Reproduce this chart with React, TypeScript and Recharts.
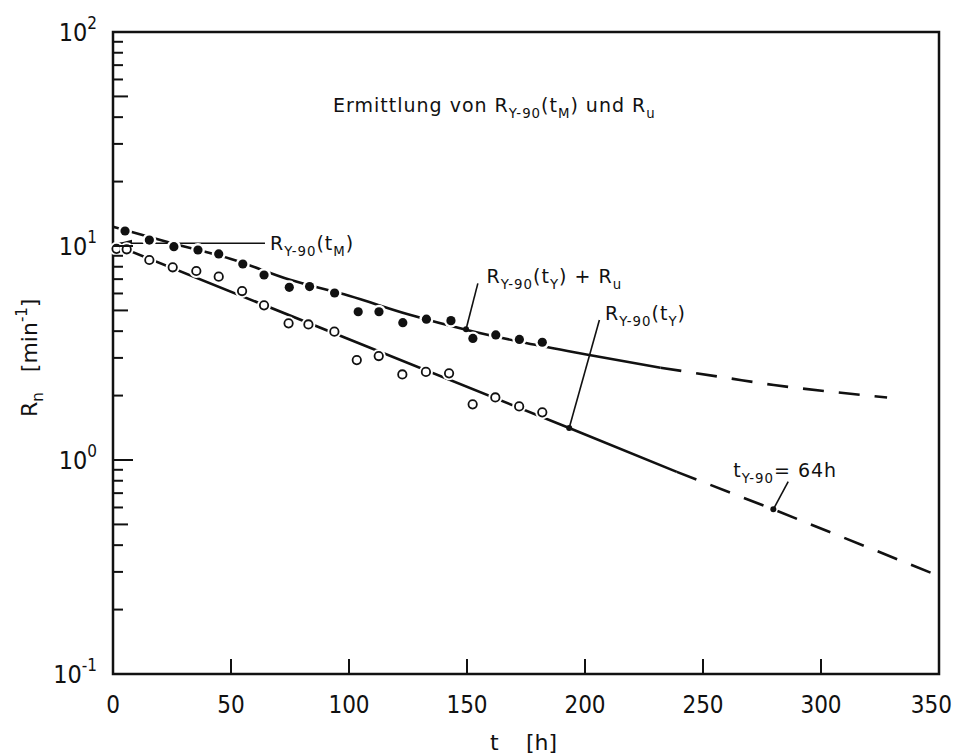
import React from "react";
import {
  ComposedChart,
  Line,
  Scatter,
  XAxis,
  YAxis,
  ReferenceArea,
  ReferenceLine,
  ReferenceDot,
} from "recharts";

// measured points: R_Y-90(t_Y) + R_u (filled) and R_Y-90(t_Y) (open)
const filledT = [5.1, 15.4, 25.8, 36, 44.8, 55, 64, 74.7, 83.3, 93.9, 103.9, 112.7, 122.8, 132.8, 143.2, 152.5, 162.2, 172.2, 181.9];
const filledR = [11.75, 10.66, 9.93, 9.58, 9.18, 8.24, 7.32, 6.41, 6.46, 6.03, 4.93, 4.93, 4.38, 4.55, 4.48, 3.7, 3.84, 3.66, 3.55];

const openT = [1.5, 5.8, 15.4, 25.3, 35.3, 44.8, 54.7, 64, 74.4, 82.8, 93.8, 103.3, 112.6, 122.6, 132.6, 142.4, 152.4, 162, 172.1, 181.9];
const openR = [9.7, 9.65, 8.6, 7.95, 7.64, 7.19, 6.16, 5.28, 4.35, 4.3, 3.98, 2.93, 3.06, 2.51, 2.58, 2.54, 1.82, 1.96, 1.78, 1.67];

// fitted curves
const upperSolidT = [0, 25, 50, 75, 100, 125, 150, 175, 200, 232];
const upperSolidR = [12.3, 10.3, 8.7, 6.95, 5.85, 4.8, 4.05, 3.52, 3.12, 2.7];
const upperDashT = [232, 260, 280, 305, 328];
const upperDashR = [2.7, 2.42, 2.24, 2.08, 1.96];

const lowerSolidT = [0, 193.3, 238.9];
const lowerSolidR = [10.2, 1.41, 0.88];
const lowerDashT = [238.9, 279.8, 350];
const lowerDashR = [0.88, 0.588, 0.287];

// small dots where the labels point
const markerT = [149.6, 193.3, 279.8];
const markerR = [4.08, 1.41, 0.588];

const xTicks = [0, 50, 100, 150, 200, 250, 300, 350];
const yTicks = [
  0.1, 0.2, 0.3, 0.4, 0.5, 0.6, 0.7, 0.8, 0.9,
  1, 2, 3, 4, 5, 6, 7, 8, 9,
  10, 20, 30, 40, 50, 60, 70, 80, 90, 100,
];

// annotations (data coordinates)
const leaderFromT = [154.6, 206.1, 286.1];
const leaderFromR = [6.69, 4.51, 0.792];
const arrowR = 10.3;
const arrowEndT = 64.4;

type Part = [string, ("sub" | "sup")?];
const labelT = [66.5, 158.3, 208.5, 262.8];
const labelR = [9.58, 6.71, 4.51, 0.833];
const labelParts: Part[][] = [
  [["R"], ["Y-90", "sub"], ["(t"], ["M", "sub"], [")"]],
  [["R"], ["Y-90", "sub"], ["(t"], ["Y", "sub"], [") + R"], ["u", "sub"]],
  [["R"], ["Y-90", "sub"], ["(t"], ["Y", "sub"], [")"]],
  [["t"], ["Y-90", "sub"], ["= 64h"]],
];

const TICK_FONT = "'Liberation Sans Narrow', 'DejaVu Sans Condensed', 'Liberation Sans', sans-serif";
const LABEL_FONT = "'DejaVu Sans', 'Liberation Sans', sans-serif";
const INK = "#111";

const toPts = (t: number[], r: number[]) => t.map((v, i) => ({ t: v, R: r[i] }));

const rich = (parts: Part[], base: number) => {
  let shift = 0;
  return parts.map(([s, k], i) => {
    const target = k === "sub" ? base * 0.3 : k === "sup" ? -base * 0.45 : 0;
    const dy = target - shift;
    shift = target;
    return (
      <tspan key={i} dy={dy} fontSize={k ? base * 0.7 : base}>
        {s}
      </tspan>
    );
  });
};

const tickLen = (v: number) => {
  const m = v / Math.pow(10, Math.floor(Math.log10(v) + 1e-9));
  if (Math.abs(m - 1) < 1e-6) return 20;
  if (Math.abs(m - 5) < 1e-6) return 15;
  return 10;
};

const LeftTick = (props: any) => {
  const { x, y, payload } = props;
  const v = payload.value as number;
  const lg = Math.log10(v);
  const exp = Math.round(lg);
  const decade = Math.abs(lg - exp) < 1e-6;
  return (
    <g>
      {v > 0.1 && v < 100 ? (
        <line x1={x} x2={x + tickLen(v)} y1={y} y2={y} stroke={INK} strokeWidth={2} />
      ) : null}
      {decade ? (
        <text x={x - 16} y={y + 9} textAnchor="end" fontFamily={TICK_FONT} fontSize={25} fill={INK}>
          10
          <tspan dy={-12} fontSize={17}>
            {exp}
          </tspan>
        </text>
      ) : null}
    </g>
  );
};

const RightTick = (props: any) => {
  const { x, y, payload } = props;
  const v = payload.value as number;
  if (v <= 0.1 || v >= 100) return <g />;
  return <line x1={x} x2={x - tickLen(v)} y1={y} y2={y} stroke={INK} strokeWidth={2} />;
};

const BottomTick = (props: any) => {
  const { x, y, payload } = props;
  const v = payload.value as number;
  const last = v === 350;
  return (
    <g>
      {v > 0 && v < 350 ? (
        <line x1={x} x2={x} y1={y} y2={y - 15} stroke={INK} strokeWidth={2} />
      ) : null}
      <text
        x={last ? x + 13 : x}
        y={y + 39}
        textAnchor={last ? "end" : "middle"}
        fontFamily={TICK_FONT}
        fontSize={24}
        fill={INK}
      >
        {v}
      </text>
    </g>
  );
};

const FilledDot = (p: any) => (
  <g>
    <circle cx={p.cx} cy={p.cy} r={7} fill="#fff" />
    <circle cx={p.cx} cy={p.cy} r={4.6} fill={INK} />
  </g>
);

const OpenDot = (p: any) => (
  <g>
    <circle cx={p.cx} cy={p.cy} r={7} fill="#fff" />
    <circle cx={p.cx} cy={p.cy} r={4.2} fill="#fff" stroke={INK} strokeWidth={1.8} />
  </g>
);

const SmallDot = (p: any) => <circle cx={p.cx} cy={p.cy} r={3} fill={INK} />;

const Arrowhead = (p: any) => (
  <polygon
    points={`${p.cx + 5},${p.cy} ${p.cx + 19},${p.cy - 3.5} ${p.cx + 19},${p.cy + 3.5}`}
    fill={INK}
  />
);

const labelShape = (parts: Part[]) => (p: any) => (
  <text x={p.cx} y={p.cy} fontFamily={LABEL_FONT} fontSize={19} letterSpacing={1} fill={INK}>
    {rich(parts, 19)}
  </text>
);

export default function App() {
  const W = 957;
  const H = 754;
  return (
    <div style={{ position: "absolute", left: 0, top: 0, width: W, height: H, background: "#fff" }}>
      <ComposedChart width={W} height={H} margin={{ top: 32, right: 18, bottom: 50, left: 53 }}>
        <XAxis
          type="number"
          dataKey="t"
          domain={[0, 350]}
          ticks={xTicks}
          interval={0}
          height={30}
          tickSize={0}
          tickMargin={0}
          axisLine={false}
          tick={<BottomTick />}
        />
        <YAxis
          type="number"
          dataKey="R"
          scale="log"
          domain={[0.1, 100]}
          ticks={yTicks}
          interval={0}
          allowDataOverflow
          width={60}
          tickSize={0}
          tickMargin={0}
          axisLine={false}
          tick={<LeftTick />}
        />
        <YAxis
          yAxisId="right"
          orientation="right"
          type="number"
          scale="log"
          domain={[0.1, 100]}
          ticks={yTicks}
          interval={0}
          allowDataOverflow
          width={0}
          tickSize={0}
          tickMargin={0}
          axisLine={false}
          tick={<RightTick />}
        />
        <ReferenceArea x1={0} x2={350} y1={0.1} y2={100} fill="none" stroke={INK} strokeWidth={2.5} ifOverflow="visible" />

        <Line data={toPts(upperSolidT, upperSolidR)} dataKey="R" type="monotone" stroke={INK} strokeWidth={2.6} dot={false} activeDot={false} isAnimationActive={false} />
        <Line data={toPts(upperDashT, upperDashR)} dataKey="R" type="monotone" stroke={INK} strokeWidth={2.6} strokeDasharray="21 15" dot={false} activeDot={false} isAnimationActive={false} />
        <Line data={toPts(lowerSolidT, lowerSolidR)} dataKey="R" type="linear" stroke={INK} strokeWidth={2.6} dot={false} activeDot={false} isAnimationActive={false} />
        <Line data={toPts(lowerDashT, lowerDashR)} dataKey="R" type="linear" stroke={INK} strokeWidth={2.6} strokeDasharray="21 15" dot={false} activeDot={false} isAnimationActive={false} />

        <ReferenceLine segment={[{ x: 0, y: arrowR }, { x: arrowEndT, y: arrowR }]} stroke={INK} strokeWidth={1.6} />
        <ReferenceDot x={0} y={arrowR} r={0} shape={Arrowhead} />
        {leaderFromT.map((t, i) => (
          <ReferenceLine
            key={`ld-${i}`}
            segment={[{ x: t, y: leaderFromR[i] }, { x: markerT[i], y: markerR[i] }]}
            stroke={INK}
            strokeWidth={1.6}
          />
        ))}

        <Scatter data={toPts(filledT, filledR)} dataKey="R" shape={FilledDot} isAnimationActive={false} />
        <Scatter data={toPts(openT, openR)} dataKey="R" shape={OpenDot} isAnimationActive={false} />
        <Scatter data={toPts(markerT, markerR)} dataKey="R" shape={SmallDot} isAnimationActive={false} />

        {labelT.map((t, i) => (
          <ReferenceDot key={`lb-${i}`} x={t} y={labelR[i]} r={0} shape={labelShape(labelParts[i])} />
        ))}
      </ComposedChart>
      <svg width={W} height={H} style={{ position: "absolute", left: 0, top: 0, pointerEvents: "none" }}>
        <text x={333} y={112} fontFamily={LABEL_FONT} fontSize={19} letterSpacing={1} fill={INK}>
          {rich([["Ermittlung von R"], ["Y-90", "sub"], ["(t"], ["M", "sub"], [") und R"], ["u", "sub"]], 19)}
        </text>
        <text transform="translate(37,417) rotate(-90)" fontFamily={LABEL_FONT} fontSize={22} fill={INK}>
          <tspan>R</tspan>
          <tspan dy={6} fontSize={15}>n</tspan>
          <tspan dy={-6} dx={20}>[min</tspan>
          <tspan dy={-10} fontSize={15}>-1</tspan>
          <tspan dy={10}>]</tspan>
        </text>
        <text x={490} y={750} fontFamily={LABEL_FONT} fontSize={22} fill={INK}>
          t
        </text>
        <text x={526} y={750} fontFamily={LABEL_FONT} fontSize={22} fill={INK}>
          [h]
        </text>
      </svg>
    </div>
  );
}
